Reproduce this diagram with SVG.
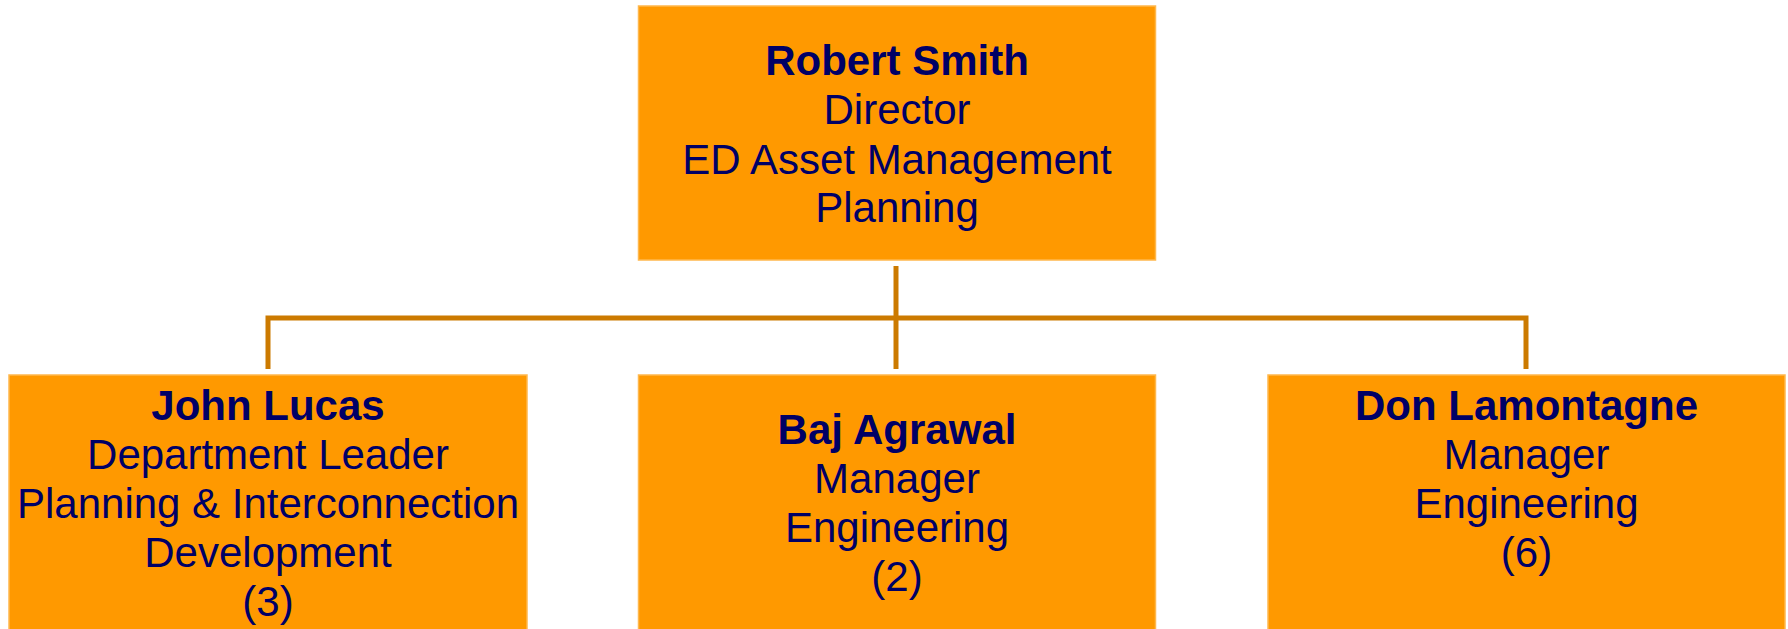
<svg xmlns="http://www.w3.org/2000/svg" width="1788" height="629" viewBox="0 0 1788 629">
<style>
.box{fill:#FF9900;stroke:#FFB84D;stroke-width:1.5}
.t{font-family:"Liberation Sans",Arial,sans-serif;font-size:42px;fill:#000066;text-anchor:middle}
.b{font-weight:bold}
.c{fill:none;stroke:#CC7A00;stroke-width:5;stroke-linejoin:miter;stroke-linecap:butt}
</style>
<rect width="1788" height="629" fill="#FFFFFF"/>
<g id="connectors">
<line class="c" x1="896" y1="266" x2="896" y2="369"/>
<polyline class="c" points="268,369 268,318 1526,318 1526,369"/>
</g>
<g id="node-robert-smith">
<rect class="box" x="638.5" y="6" width="517" height="254"/>
<text class="t b" x="897" y="75">Robert Smith</text>
<text class="t" x="897" y="124">Director</text>
<text class="t" x="897" y="173.5">ED Asset Management</text>
<text class="t" x="897" y="221.5">Planning</text>
</g>
<g id="node-john-lucas">
<rect class="box" x="9" y="375" width="518" height="260"/>
<text class="t b" x="268" y="420">John Lucas</text>
<text class="t" x="268" y="468.5">Department Leader</text>
<text class="t" x="268" y="518">Planning &amp; Interconnection</text>
<text class="t" x="268" y="567">Development</text>
<text class="t" x="268" y="615.5">(3)</text>
</g>
<g id="node-baj-agrawal">
<rect class="box" x="638.5" y="375" width="517" height="260"/>
<text class="t b" x="897" y="443.5">Baj Agrawal</text>
<text class="t" x="897" y="492.5">Manager</text>
<text class="t" x="897" y="541.5">Engineering</text>
<text class="t" x="897" y="591">(2)</text>
</g>
<g id="node-don-lamontagne">
<rect class="box" x="1268" y="375" width="517" height="260"/>
<text class="t b" x="1526.5" y="420">Don Lamontagne</text>
<text class="t" x="1526.5" y="468.5">Manager</text>
<text class="t" x="1526.5" y="518">Engineering</text>
<text class="t" x="1526.5" y="567">(6)</text>
</g>
</svg>
